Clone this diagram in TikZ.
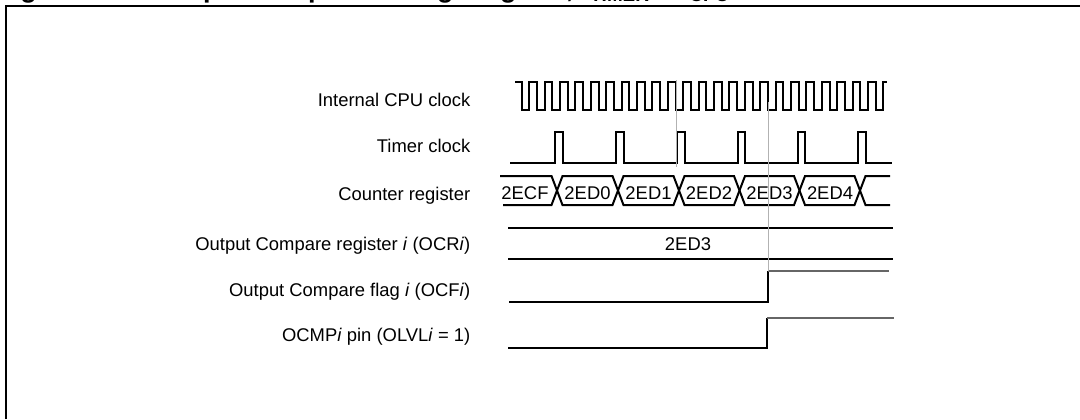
\documentclass[tikz,border=0pt]{standalone}
\usepackage{fontspec}
\setmainfont{Liberation Sans}
\begin{document}
\begin{tikzpicture}[x=0.75pt,y=-0.75pt,
  lbl/.style={anchor=base east,inner sep=0pt,font=\fontsize{13.8pt}{16pt}\selectfont},
  val/.style={anchor=base,inner sep=0pt,font=\fontsize{13.8pt}{16pt}\selectfont},
  ttl/.style={anchor=base west,inner sep=0pt,font=\fontsize{20.25pt}{24pt}\selectfont\bfseries},
  wave/.style={line width=1.5pt,line join=miter,black},
  highline/.style={line width=0.8pt,black!60},
  guide/.style={line width=0.75pt,black!30},
  frame/.style={line width=1.5pt,black}]
\useasboundingbox (0,0) rectangle (1080,419);

% frame (cropped)
\draw[frame] (6,419) -- (6,6) -- (1080,6);

% cropped title
\node[ttl] (fig) at (-4,-2.7) {Figure 48.};
\node[ttl] (title) at (156.4,-2.7) {Output compare timing diagram, f\textsubscript{TIMER} = f\textsubscript{CPU}/2};

% labels
\node[lbl] (lcpu) at (470.5,106) {Internal CPU clock};
\node[lbl] (ltim) at (470.5,152.5) {Timer clock};
\node[lbl] (lcnt) at (470.5,200.5) {Counter register};
\node[lbl] (locr) at (470.5,250.5) {Output Compare register \textit{i} (OCR\textit{i})};
\node[lbl] (locf) at (470.5,296.5) {Output Compare flag \textit{i} (OCF\textit{i})};
\node[lbl] (locmp) at (470.5,341.5) {OCMP\textit{i} pin (OLVL\textit{i} = 1)};

% internal CPU clock
\draw[wave] (515,82) \foreach \k in {0,...,23}{
  -- ({521.5+15.4*\k},82) -- ({521.5+15.4*\k},110)
  -- ({529.2+15.4*\k},110) -- ({529.2+15.4*\k},82)} -- (887,82);

% timer clock
\draw[wave] (510,163) \foreach \r in {555,616,677,737.5,797.5,858}{
  -- (\r,163) -- (\r,132) -- ({\r+7.5},132) -- ({\r+7.5},163)} -- (892,163);

% counter register bus
\draw[wave] (500,176) -- (551.5,176) -- (562.5,205) -- (612.5,205) -- (623.5,176)
  -- (673.5,176) -- (684.5,205) -- (734,205) -- (745,176) -- (794,176)
  -- (805,205) -- (854.5,205) -- (865.5,176) -- (890,176);
\draw[wave] (503,205) -- (551.5,205) -- (562.5,176) -- (612.5,176) -- (623.5,205)
  -- (673.5,205) -- (684.5,176) -- (734,176) -- (745,205) -- (794,205)
  -- (805,176) -- (854.5,176) -- (865.5,205) -- (890,205);
\node[val] (c0) at (525,199.5) {2ECF};
\node[val] (c1) at (587.5,199.5) {2ED0};
\node[val] (c2) at (648.5,199.5) {2ED1};
\node[val] (c3) at (709,199.5) {2ED2};
\node[val] (c4) at (769.5,199.5) {2ED3};
\node[val] (c5) at (830,199.5) {2ED4};

% output compare register
\draw[wave] (508,228) -- (893,228);
\draw[wave] (508,259) -- (893,259);
\node[val] (ocrv) at (688,250.5) {2ED3};

% output compare flag
\draw[wave] (509,302) -- (768,302) -- (768,271);
\draw[highline] (768,271) -- (889,271);

% OCMP pin
\draw[wave] (508,348) -- (767,348) -- (767,318);
\draw[highline] (767,318) -- (894,318);

% guide lines
\draw[guide] (676,80) -- (676,167);
\draw[guide] (768,102) -- (768,271);
\end{tikzpicture}
\end{document}
